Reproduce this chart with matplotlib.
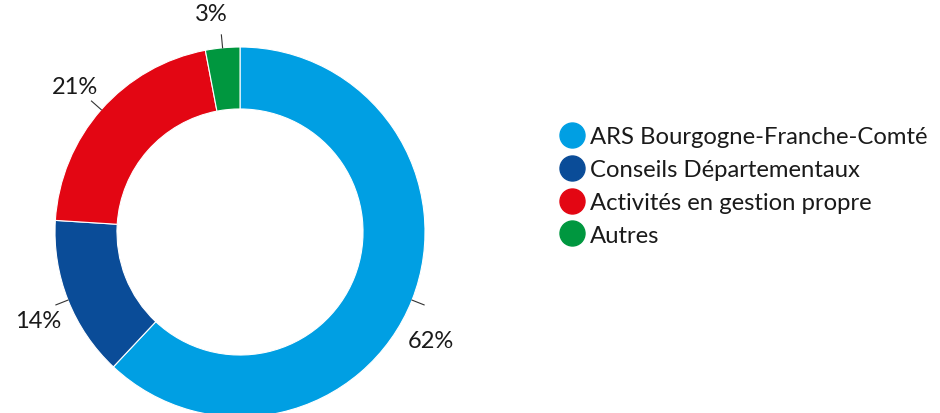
import numpy as np
import matplotlib
matplotlib.use("Agg")
import matplotlib.pyplot as plt
from matplotlib.lines import Line2D

categories = ["ARS Bourgogne-Franche-Comté", "Conseils Départementaux",
              "Activités en gestion propre", "Autres"]
values = [62, 14, 21, 3]
labels = ["62%", "14%", "21%", "3%"]
colors = ["#009fe3", "#0a4c98", "#e30613", "#00973f"]
label_offsets_deg = [8, -2, 0, -2]  # label angle tweak (style)

plt.rcParams['font.family'] = ['Lato', 'DejaVu Sans']

fig = plt.figure(figsize=(9.4, 4.14), dpi=100)
ax = fig.add_axes([0, 0, 1, 1])

cx, cy, R = 240, 181, 185
wedges, _ = ax.pie(values, colors=colors, startangle=90, counterclock=False,
                   center=(cx, cy), radius=R, frame=True,
                   wedgeprops=dict(width=R * 0.335, edgecolor='white', linewidth=0.8))
ax.set_xlim(0, 940)
ax.set_ylim(0, 414)
ax.set_aspect('equal')
ax.axis('off')

cum = np.cumsum([0] + values[:-1])
total = sum(values)
for v, c0, lab, off in zip(values, cum, labels, label_offsets_deg):
    mid = (c0 + v / 2) / total * 360.0  # clockwise from top
    a = np.deg2rad(mid)
    x1, y1 = cx + R * np.sin(a), cy + R * np.cos(a)
    x2, y2 = cx + (R + 13) * np.sin(a), cy + (R + 13) * np.cos(a)
    ax.plot([x1, x2], [y1, y2], color='#333333', lw=0.8)
    b = np.deg2rad(mid + off)
    xt, yt = cx + (R + 35) * np.sin(b), cy + (R + 35) * np.cos(b)
    ax.text(xt, yt, lab, ha='center', va='center', fontsize=17,
            color='#1a1a1a', fontweight='normal')

handles = [Line2D([0], [0], marker='o', linestyle='none', markersize=18,
                  markerfacecolor=c, markeredgecolor=c) for c in colors]
leg = fig.legend(handles, categories, loc='upper left',
                 bbox_to_anchor=(560 / 940, 1 - 127 / 414), frameon=False,
                 handlelength=1.0, handletextpad=0.25, labelspacing=0.5,
                 borderaxespad=0, borderpad=0,
                 prop=dict(size=17.2, weight='normal'))
for t in leg.get_texts():
    t.set_color('#1a1a1a')

fig.savefig("out.png", dpi=100)
